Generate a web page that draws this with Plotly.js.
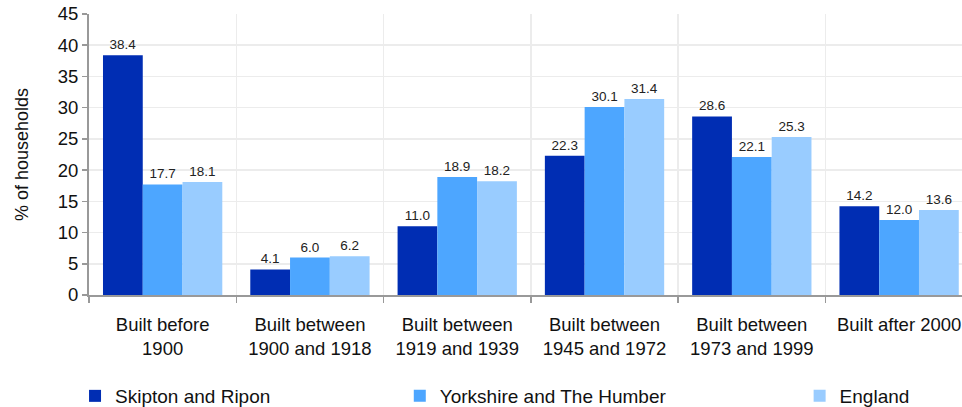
<!DOCTYPE html>
<html><head><meta charset="utf-8">
<script src="https://cdn.plot.ly/plotly-3.0.1.min.js"></script>
<style>html,body{margin:0;padding:0;background:#fff;}#chart{width:962px;height:407px;}</style>
</head><body><div id="chart"></div>
<script>
const categories = ["Built before<br>1900", "Built between<br>1900 and 1918", "Built between<br>1919 and 1939", "Built between<br>1945 and 1972", "Built between<br>1973 and 1999", "Built after 2000"];
const skipton = [38.4, 4.1, 11.0, 22.3, 28.6, 14.2];
const yorkshire = [17.7, 6.0, 18.9, 30.1, 22.1, 12.0];
const england = [18.1, 6.2, 18.2, 31.4, 25.3, 13.6];
const seriesNames = ["Skipton and Ripon", "Yorkshire and The Humber", "England"];
const colors = ["#002db3", "#4da6ff", "#99ccff"];

const FONT = "Liberation Sans, Arial, sans-serif";
const legends = ["legend", "legend2", "legend3"];
const traces = [skipton, yorkshire, england].map((vals, i) => ({
  type: "bar", x: categories, y: vals, name: seriesNames[i],
  marker: {color: colors[i], line: {width: 0}},
  text: vals.map(v => v.toFixed(1)), textposition: "outside", cliponaxis: false,
  textfont: {family: FONT, size: 13.5, color: "#222"},
  legend: legends[i], hoverinfo: "y"
}));

function leg(xp) {
  return {orientation: "h", x: xp, xanchor: "left", yref: "container", y: 0.027, yanchor: "middle",
    font: {family: FONT, size: 19, color: "#111"},
    itemwidth: 30, bgcolor: "rgba(0,0,0,0)", traceorder: "normal"};
}

const layout = {
  width: 962, height: 407,
  margin: {l: 89, r: 0, t: 14, b: 112, autoexpand: false},
  paper_bgcolor: "#fff", plot_bgcolor: "#fff",
  barmode: "group", bargap: 0.19, bargroupgap: 0,
  font: {family: FONT, color: "#111"},
  xaxis: {
    type: "category", range: [-0.5, 5.427], tickson: "boundaries",
    showgrid: true, gridcolor: "#ececec", gridwidth: 1.5,
    showline: true, linecolor: "#999", linewidth: 2,
    ticks: "outside", ticklen: 6, tickcolor: "#999", tickwidth: 1.5,
    ticklabelstandoff: 12,
    tickfont: {family: FONT, size: 18.5, color: "#111"}, zeroline: false, fixedrange: true
  },
  yaxis: {
    range: [0, 45], tickvals: [0,5,10,15,20,25,30,35,40,45],
    showgrid: true, gridcolor: "#ececec", gridwidth: 1.5,
    showline: true, linecolor: "#999", linewidth: 2,
    ticks: "outside", ticklen: 5, tickcolor: "#999", tickwidth: 1.5,
    tickfont: {family: FONT, size: 18.5, color: "#111"}, zeroline: false,
    title: {text: "% of households", font: {family: FONT, size: 18, color: "#111"}, standoff: 24}
  },
  showlegend: true,
  legend: leg(-0.016),
  legend2: leg(0.356),
  legend3: leg(0.814)
};
Plotly.newPlot("chart", traces, layout, {displayModeBar: false, staticPlot: true});
</script></body></html>
